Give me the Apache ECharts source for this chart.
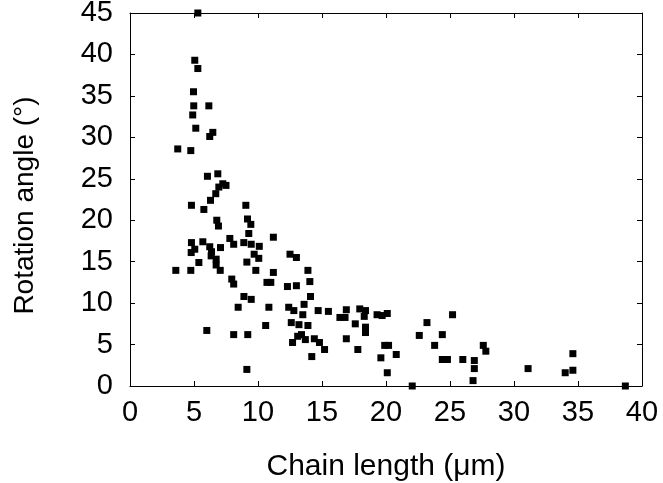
<!DOCTYPE html>
<html>
<head>
<meta charset="utf-8">
<script src="https://cdn.jsdelivr.net/npm/echarts@6/dist/echarts.min.js"></script>
<style>
html, body { margin: 0; padding: 0; background: #fff; }
#chart { width: 663px; height: 483px; }
</style>
</head>
<body>
<div id="chart"></div>
<script>
// chain length (um) / rotation angle (deg)
var chainLength = [
    5.3, 5.06, 5.3, 4.96, 4.98, 6.16, 4.9, 5.14, 6.47, 6.23,
    3.73, 4.75, 6.05, 6.86, 7.25, 7.5, 6.94, 6.7, 6.29, 4.8,
    5.77, 9.05, 6.78, 6.91, 9.18, 9.44, 9.28, 11.2, 4.8, 5.69,
    7.8, 8.1, 7.07, 6.23, 8.89, 9.47, 10.1, 5.06, 4.78, 6.37,
    9.7, 5.38, 6.34, 6.73, 6.73, 7.05, 3.58, 4.75, 9.13, 10.06,
    9.83, 11.2, 7.95, 8.1, 10.7, 11.0, 8.9, 9.47, 8.45, 10.85,
    10.6, 6.0, 8.1, 9.2, 9.13, 12.5, 13.0, 13.9, 12.3, 13.0,
    14.05, 14.1, 13.6, 12.4, 12.8, 13.5, 14.7, 15.5, 16.9, 17.95,
    18.4, 12.6, 13.2, 13.9, 16.4, 16.8, 17.6, 13.1, 13.4, 12.7,
    13.7, 14.4, 14.8, 15.2, 14.2, 16.9, 17.8, 18.3, 18.4, 18.4,
    19.3, 19.7, 20.1, 19.9, 20.2, 19.6, 20.8, 20.1, 22.05, 22.6,
    23.2, 25.2, 24.4, 23.8, 24.4, 24.8, 26.0, 26.9, 26.9, 26.8,
    27.6, 27.8, 31.1, 34.0, 34.6, 34.6, 38.7
];
var rotationAngle = [
    45.0, 39.3, 38.3, 35.5, 33.8, 33.8, 32.7, 31.1, 30.6, 30.1,
    28.6, 28.4, 25.3, 25.6, 24.4, 24.2, 24.0, 23.2, 22.4, 21.8,
    21.3, 21.8, 20.0, 19.3, 20.15, 19.5, 18.4, 17.95, 17.3, 17.4,
    17.8, 17.1, 16.7, 16.8, 17.3, 17.1, 16.85, 16.5, 16.1, 16.2,
    15.9, 14.9, 15.7, 15.3, 14.6, 13.95, 13.95, 13.95, 14.95, 15.4,
    13.95, 13.7, 12.9, 12.3, 12.5, 12.5, 10.8, 10.45, 9.5, 9.5,
    7.3, 6.7, 6.2, 6.2, 2.0, 15.9, 15.5, 13.95, 12.0, 12.1,
    12.6, 10.8, 9.85, 9.5, 9.1, 8.6, 9.1, 9.0, 9.2, 9.3,
    9.1, 7.65, 7.4, 7.3, 8.27, 8.27, 7.5, 6.0, 6.2, 5.25,
    5.6, 5.7, 5.25, 4.4, 3.55, 5.7, 4.4, 8.4, 7.1, 6.45,
    8.6, 8.5, 8.75, 4.9, 4.9, 3.4, 3.8, 1.6, 0, 6.1,
    7.65, 8.6, 6.2, 4.9, 3.2, 3.2, 3.2, 3.07, 2.1, 0.65,
    4.9, 4.2, 2.1, 1.6, 1.9, 3.9, 0
];

var points = chainLength.map(function (x, i) {
    return [x, rotationAngle[i]];
});

var chartDom = document.getElementById('chart');
var myChart = echarts.init(chartDom);
var font = 'Liberation Sans';

function frameAxis(pos, max, interval) {
    return {
        type: 'value',
        position: pos,
        min: 0,
        max: max,
        interval: interval,
        axisLine: { show: true, onZero: false, lineStyle: { color: '#000', width: 1 } },
        axisTick: { show: true, inside: true, length: 5, lineStyle: { color: '#000' } },
        axisLabel: { show: false },
        splitLine: { show: false }
    };
}

var option = {
    animation: false,
    backgroundColor: '#fff',
    grid: { left: 130, right: 21, top: 13, bottom: 97, outerBoundsMode: 'none' },
    xAxis: [
        {
            type: 'value',
            min: 0,
            max: 40,
            interval: 5,
            name: 'Chain length (μm)',
            nameLocation: 'middle',
            nameGap: 66,
            nameTextStyle: { fontFamily: font, fontSize: 30, color: '#000' },
            axisLine: { show: true, onZero: false, lineStyle: { color: '#000', width: 1 } },
            axisTick: { show: true, inside: true, length: 5, lineStyle: { color: '#000' } },
            axisLabel: { fontFamily: font, fontSize: 29, color: '#000', margin: 12 },
            splitLine: { show: false }
        },
        frameAxis('top', 40, 5)
    ],
    yAxis: [
        {
            type: 'value',
            min: 0,
            max: 45,
            interval: 5,
            name: 'Rotation angle (°)',
            nameLocation: 'middle',
            nameGap: 91,
            nameRotate: 90,
            nameTextStyle: { fontFamily: font, fontSize: 28, color: '#000', padding: [0, 12, 0, 0] },
            axisLine: { show: true, onZero: false, lineStyle: { color: '#000', width: 1 } },
            axisTick: { show: true, inside: true, length: 5, lineStyle: { color: '#000' } },
            axisLabel: { fontFamily: font, fontSize: 29, color: '#000', margin: 17 },
            splitLine: { show: false }
        },
        frameAxis('right', 45, 5)
    ],
    series: [
        {
            type: 'scatter',
            symbol: 'rect',
            symbolSize: 7,
            clip: false,
            itemStyle: { color: '#000', opacity: 1 },
            data: points
        }
    ]
};

option && myChart.setOption(option);
</script>
</body>
</html>
